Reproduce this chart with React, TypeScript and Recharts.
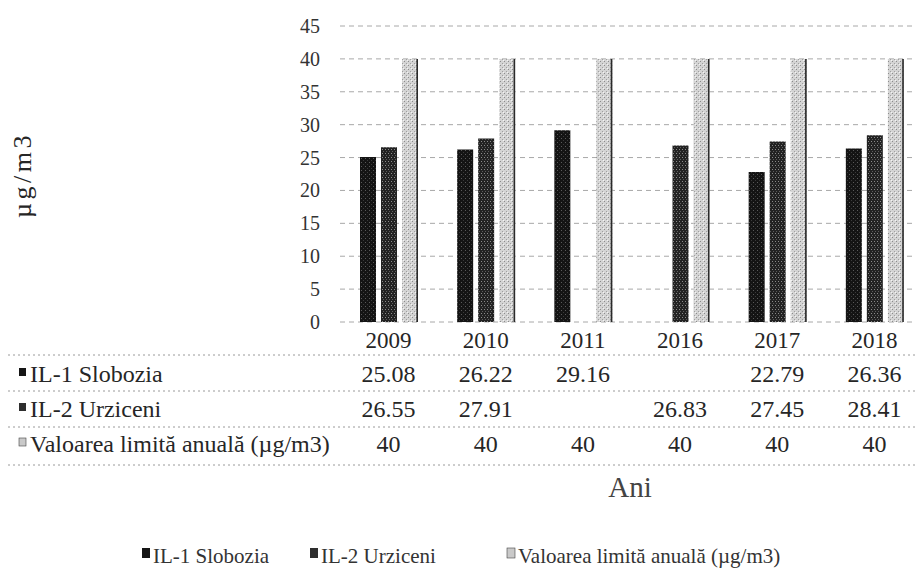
import React from 'react';
import { BarChart, Bar, XAxis, YAxis, CartesianGrid } from 'recharts';

const years = ['2009', '2010', '2011', '2016', '2017', '2018'];
const slobozia: (number | null)[] = [25.08, 26.22, 29.16, null, 22.79, 26.36];
const urziceni: (number | null)[] = [26.55, 27.91, null, 26.83, 27.45, 28.41];
const limita: (number | null)[] = [40, 40, 40, 40, 40, 40];
const yTicks = [0, 5, 10, 15, 20, 25, 30, 35, 40, 45];

const seriesNames = ['IL-1 Slobozia', 'IL-2 Urziceni', 'Valoarea limită anuală (µg/m3)'];
const seriesKeys = ['slobozia', 'urziceni', 'limita'];
const seriesValues = [slobozia, urziceni, limita];

const FONT = "'Liberation Serif', 'Times New Roman', 'DejaVu Serif', serif";
const TXT: React.CSSProperties = { fontFamily: FONT };
const fills = ['url(#patA)', 'url(#patB)', 'url(#patC)'];
const swatches = ['#151515', '#2e2e2e', '#c9c9c9'];

const data = years.map((y, i) => ({
  year: y,
  slobozia: slobozia[i],
  urziceni: urziceni[i],
  limita: limita[i],
}));

const fmt = (v: number, r: number) => (r === 2 ? String(v) : v.toFixed(2));

const TableTick = (props: any) => {
  const { x, y, payload } = props;
  const i = payload.index;
  return (
    <g>
      <text x={x} y={y + 26} textAnchor="middle" fontSize={23} fill="#262626" style={TXT}>
        {payload.value}
      </text>
      {seriesValues.map((vals, r) => {
        const v = vals[i];
        if (v == null) return null;
        return (
          <text key={r} x={x} y={y + 60 + r * 35} textAnchor="middle" fontSize={24} fill="#262626" style={TXT}>
            {fmt(v, r)}
          </text>
        );
      })}
    </g>
  );
};

const YTick = (props: any) => {
  const { x, y, payload } = props;
  return (
    <text x={x} y={y} dy="0.35em" textAnchor="end" fontSize={20} fill="#333" style={TXT}>
      {payload.value}
    </text>
  );
};

const LimitBar = (props: any) => {
  const { x, y, width, height, fill } = props;
  if (height == null || height <= 0) return null;
  return (
    <g>
      <rect x={x} y={y} width={width} height={height} fill={fill} />
      <line x1={x + width - 0.8} x2={x + width - 0.8} y1={y} y2={y + height} stroke="#2a2a2a" strokeWidth={1.6} />
    </g>
  );
};

const tableLines = [355, 391, 427, 465];
const rowBaselines = [382, 417, 452];
const legendX = [142, 310, 507];

export default function App() {
  return (
    <div style={{ position: 'absolute', left: 0, top: 0, width: 915, height: 571, overflow: 'hidden', background: '#fff', fontFamily: FONT }}>
      <div style={{ position: 'absolute', left: 0, top: 0 }}>
        <BarChart
          width={923}
          height={571}
          data={data}
          margin={{ top: 26, right: 0, bottom: 0, left: 0 }}
          barSize={16}
          barGap={5}
          style={TXT}
        >
          <defs>
            <pattern id="patA" width="4" height="4" patternUnits="userSpaceOnUse">
              <rect width="4" height="4" fill="#141414" />
              <rect x="1" y="2" width="1" height="1" fill="#5a5a5a" />
              <rect x="3" y="0" width="1" height="1" fill="#3a3a3a" />
            </pattern>
            <pattern id="patB" width="3" height="4" patternUnits="userSpaceOnUse">
              <rect width="3" height="4" fill="#222" />
              <rect x="1" y="1" width="1" height="1" fill="#8a8a8a" />
              <rect x="2" y="3" width="1" height="1" fill="#5c5c5c" />
            </pattern>
            <pattern id="patC" width="4" height="4" patternUnits="userSpaceOnUse">
              <rect width="4" height="4" fill="#d4d4d4" />
              <rect x="0" y="1" width="1" height="1" fill="#8c8c8c" />
              <rect x="2" y="3" width="1" height="1" fill="#a0a0a0" />
              <rect x="3" y="0" width="1" height="1" fill="#f4f4f4" />
            </pattern>
          </defs>
          <CartesianGrid vertical={false} stroke="#a8a8a8" strokeDasharray="5 4" />
          <XAxis
            dataKey="year"
            height={249}
            axisLine={false}
            tickLine={false}
            tickSize={0}
            tickMargin={0}
            interval={0}
            tick={<TableTick />}
          />
          <YAxis
            width={340}
            domain={[0, 45]}
            ticks={yTicks}
            axisLine={false}
            tickLine={false}
            tickSize={0}
            tickMargin={20}
            tick={<YTick />}
          />
          <Bar dataKey={seriesKeys[0]} name={seriesNames[0]} fill={fills[0]} isAnimationActive={false} />
          <Bar dataKey={seriesKeys[1]} name={seriesNames[1]} fill={fills[1]} isAnimationActive={false} />
          <Bar dataKey={seriesKeys[2]} name={seriesNames[2]} fill={fills[2]} isAnimationActive={false} shape={<LimitBar />} />
        </BarChart>
      </div>
      <svg width={915} height={571} style={{ position: 'absolute', left: 0, top: 0, pointerEvents: 'none' }}>
        {tableLines.map((ly) => (
          <line key={ly} x1={8} x2={915} y1={ly} y2={ly} stroke="#9a9a9a" strokeWidth={1} strokeDasharray="2 3" />
        ))}
        {seriesNames.map((n, r) => (
          <g key={n}>
            <rect x={19} y={rowBaselines[r] - 14} width={7} height={8} fill={swatches[r]} stroke="#444" strokeWidth={r === 2 ? 0.6 : 0} />
            <text x={30} y={rowBaselines[r]} fontSize={24} fill="#262626" style={TXT}>{n}</text>
          </g>
        ))}
        <text transform="translate(31,175) rotate(-90)" textAnchor="middle" fontSize={26} letterSpacing={3.5} fill="#262626" style={TXT}>
          µg/m3
        </text>
        <text x={630} y={497} textAnchor="middle" fontSize={29} fill="#444" style={TXT}>Ani</text>
        {seriesNames.map((n, r) => (
          <g key={'lg' + n}>
            <rect x={legendX[r]} y={548} width={8} height={10} fill={swatches[r]} stroke="#444" strokeWidth={r === 2 ? 0.6 : 0} />
            <text x={legendX[r] + 11} y={563} fontSize={21} fill="#333" style={TXT}>{n}</text>
          </g>
        ))}
      </svg>
    </div>
  );
}
